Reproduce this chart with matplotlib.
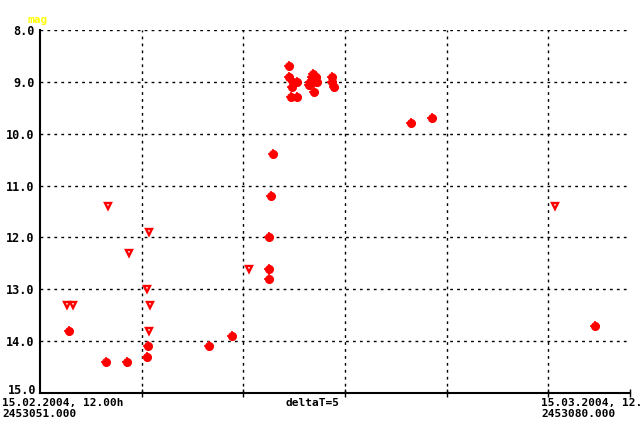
import numpy as np
import matplotlib
matplotlib.use("Agg")
import matplotlib.pyplot as plt

# positive observations (JD, mag)
det_jd = [2453052.67, 2453054.78, 2453055.98, 2453057.18, 2453057.12, 2453060.66,
          2453061.97, 2453064.08, 2453064.08, 2453064.07, 2453064.18, 2453064.31,
          2453065.22, 2453065.22, 2453065.45, 2453065.64, 2453065.36, 2453065.30,
          2453065.64, 2453066.59, 2453066.50, 2453066.73, 2453066.40, 2453066.59,
          2453066.79, 2453066.36, 2453066.65, 2453067.68, 2453067.68, 2453067.77,
          2453072.17, 2453073.36, 2453082.68]
det_mag = [13.8, 14.4, 14.4, 14.1, 14.3, 14.1,
           13.9, 12.6, 12.8, 12.0, 11.2, 10.4,
           8.7, 8.9, 9.0, 9.0, 9.1, 9.3,
           9.3, 8.85, 8.9, 8.9, 9.0, 9.0,
           9.0, 9.07, 9.2, 8.9, 9.0, 9.1,
           9.8, 9.7, 13.7]

# "fainter than" observations (JD, mag)
lim_jd = [2453052.56, 2453052.87, 2453054.90, 2453056.09, 2453057.24, 2453057.12,
          2453057.29, 2453057.24, 2453062.94, 2453080.40]
lim_mag = [13.3, 13.3, 11.4, 12.3, 11.9, 13.0, 13.3, 13.8, 12.6, 11.4]

y_ticks = [8.0, 9.0, 10.0, 11.0, 12.0, 13.0, 14.0]
y_bottom = 15.0

jd0 = 2453051.0
step = 5.8
jd_end = jd0 + 33.66

mono = dict(family="DejaVu Sans Mono", weight="bold", size=8)

fig = plt.figure(figsize=(6.4, 4.24), dpi=100)
ax = fig.add_axes([40 / 640, 31 / 424, 590 / 640, 363 / 424])

ax.set_xlim(jd0, jd_end)
ax.set_ylim(y_bottom, 8.0)

# dotted grid
for k in range(1, 6):
    ax.axvline(jd0 + k * step, color="black", lw=1, ls=(0, (2, 3)), zorder=1)
for m in y_ticks:
    ax.axhline(m, color="black", lw=1, ls=(0, (2, 3)), zorder=1)

ax.plot(det_jd, det_mag, "o", color="red", ms=5.5, mec="red", zorder=3)
ax.plot(det_jd, det_mag, "+", color="red", ms=7, mew=1.2, zorder=3)
ax.plot(lim_jd, lim_mag, "v", mfc="white", mec="red", ms=4.8, mew=1.7, zorder=3)

for s in ["top", "right"]:
    ax.spines[s].set_visible(False)
ax.spines["left"].set_linewidth(1.5)
ax.spines["bottom"].set_linewidth(1.5)

ax.set_yticks(y_ticks)
ax.set_yticklabels(["%.1f" % v for v in y_ticks], fontdict=dict(mono, size=8.5))
ax.tick_params(axis="y", length=0, pad=4)
ax.set_xticks([jd0 + k * step for k in range(1, 6)] + [jd_end])
ax.set_xticklabels([])
ax.tick_params(axis="x", direction="inout", length=6, width=1)

# bottom magnitude label, nudged up a little so it clears the date line
fig.text(36 / 640, 1 - 391 / 424, "%.1f" % y_bottom, va="center", ha="right",
         **dict(mono, size=8.5))

fig.text(27 / 640, 1 - 20 / 424, "mag", color="#ffff00", va="center", ha="left",
         family="DejaVu Sans Mono", weight="bold", size=8)
fig.text(2 / 640, 1 - 403 / 424, "15.02.2004, 12.00h", va="center", ha="left", **mono)
fig.text(2 / 640, 1 - 414 / 424, "2453051.000", va="center", ha="left", **mono)
fig.text(312 / 640, 1 - 403 / 424, "deltaT=5", va="center", ha="center", **mono)
fig.text(541 / 640, 1 - 403 / 424, "15.03.2004, 12.00h", va="center", ha="left", **mono)
fig.text(541 / 640, 1 - 414 / 424, "2453080.000", va="center", ha="left", **mono)

fig.savefig("out.png", dpi=100, facecolor="white")
